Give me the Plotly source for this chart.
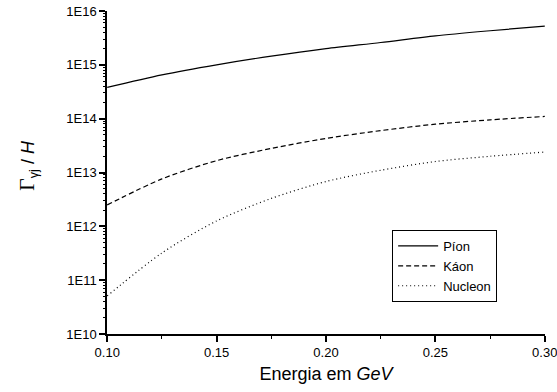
import plotly.graph_objects as go

energy = [0.10, 0.125, 0.15, 0.175, 0.20, 0.225, 0.25, 0.275, 0.30]
pion = [3.8e14, 6.5e14, 1.0e15, 1.45e15, 2.0e15, 2.6e15, 3.45e15, 4.3e15, 5.25e15]
kaon = [2.5e12, 7.6e12, 1.66e13, 2.8e13, 4.3e13, 6.0e13, 7.9e13, 9.5e13, 1.1e14]
nucleon = [5.1e10, 3.2e11, 1.26e12, 3.3e12, 6.8e12, 1.1e13, 1.6e13, 2.0e13, 2.4e13]

series_names = ["Píon", "Káon", "Nucleon"]
y_tickvals = [1e10, 1e11, 1e12, 1e13, 1e14, 1e15, 1e16]
y_ticktext = ["1E10", "1E11", "1E12", "1E13", "1E14", "1E15", "1E16"]
y_minor = [m * 10.0 ** k for k in range(10, 16) for m in range(2, 10)]
x_tickvals = [0.10, 0.15, 0.20, 0.25, 0.30]
x_ticktext = ["0.10", "0.15", "0.20", "0.25", "0.30"]
x_minor = [0.125, 0.175, 0.225, 0.275]
y_title = '<span style="font-family:Liberation Serif, Times New Roman, serif;font-size:22px">Γ</span><sub>γj</sub> / <i>H</i>'

font_fam = "Liberation Sans, Arial, sans-serif"
x_range = [0.0999, 0.3001]
y_range = [10, 16]

fig = go.Figure()
styles = ["solid", "5px,3px", "1px,3px"]
for name, ys, dash in zip(series_names, [pion, kaon, nucleon], styles):
    fig.add_trace(go.Scatter(
        x=energy, y=ys, name=name, mode="lines",
        line=dict(color="black", width=1.2, dash=dash, shape="spline", smoothing=0.8),
        cliponaxis=False,
    ))
# empty trace so the minor-tick overlay axes are drawn
fig.add_trace(go.Scatter(x=[], y=[], xaxis="x2", yaxis="y2", showlegend=False, hoverinfo="skip"))

fig.update_layout(
    width=557, height=392,
    margin=dict(l=107, r=12, t=11, b=58),
    paper_bgcolor="white", plot_bgcolor="white",
    font=dict(family=font_fam, size=13, color="black"),
    showlegend=True,
    legend=dict(
        x=0.651, y=0.322, xanchor="left", yanchor="top",
        bordercolor="black", borderwidth=1, bgcolor="white",
        font=dict(size=13, family=font_fam),
        tracegroupgap=0, itemwidth=40,
    ),
    xaxis=dict(
        range=x_range, automargin=False,
        tickvals=x_tickvals, ticktext=x_ticktext, ticklabeloverflow="allow",
        ticks="outside", ticklen=6, tickwidth=1.5, tickcolor="black",
        showline=True, linecolor="black", linewidth=1.5, mirror=False,
        showgrid=False, zeroline=False,
        title=dict(text="Energia em <i>GeV</i>", font=dict(size=18, family=font_fam), standoff=8),
        tickfont=dict(size=13),
    ),
    yaxis=dict(
        type="log", range=y_range, automargin=False,
        tickvals=y_tickvals, ticktext=y_ticktext,
        ticks="outside", ticklen=6, tickwidth=1.5, tickcolor="black",
        showline=True, linecolor="black", linewidth=1.5, mirror=False,
        showgrid=False, zeroline=False,
        tickfont=dict(size=13),
    ),
    xaxis2=dict(
        overlaying="x", side="bottom", anchor="y2", range=x_range, automargin=False,
        tickvals=x_minor, showticklabels=False,
        ticks="outside", ticklen=4, tickwidth=1.2, tickcolor="black",
        showline=False, showgrid=False, zeroline=False,
    ),
    yaxis2=dict(
        overlaying="y", side="left", anchor="x2", type="log", range=y_range, automargin=False,
        tickvals=y_minor, showticklabels=False,
        ticks="outside", ticklen=3, tickwidth=1.2, tickcolor="black",
        showline=False, showgrid=False, zeroline=False,
    ),
    annotations=[dict(
        text=y_title, textangle=-90, showarrow=False,
        xref="paper", yref="paper", x=-0.183, y=0.523,
        xanchor="center", yanchor="middle",
        font=dict(size=18, family=font_fam, color="black"),
    )],
)

fig.write_html("out.html")
